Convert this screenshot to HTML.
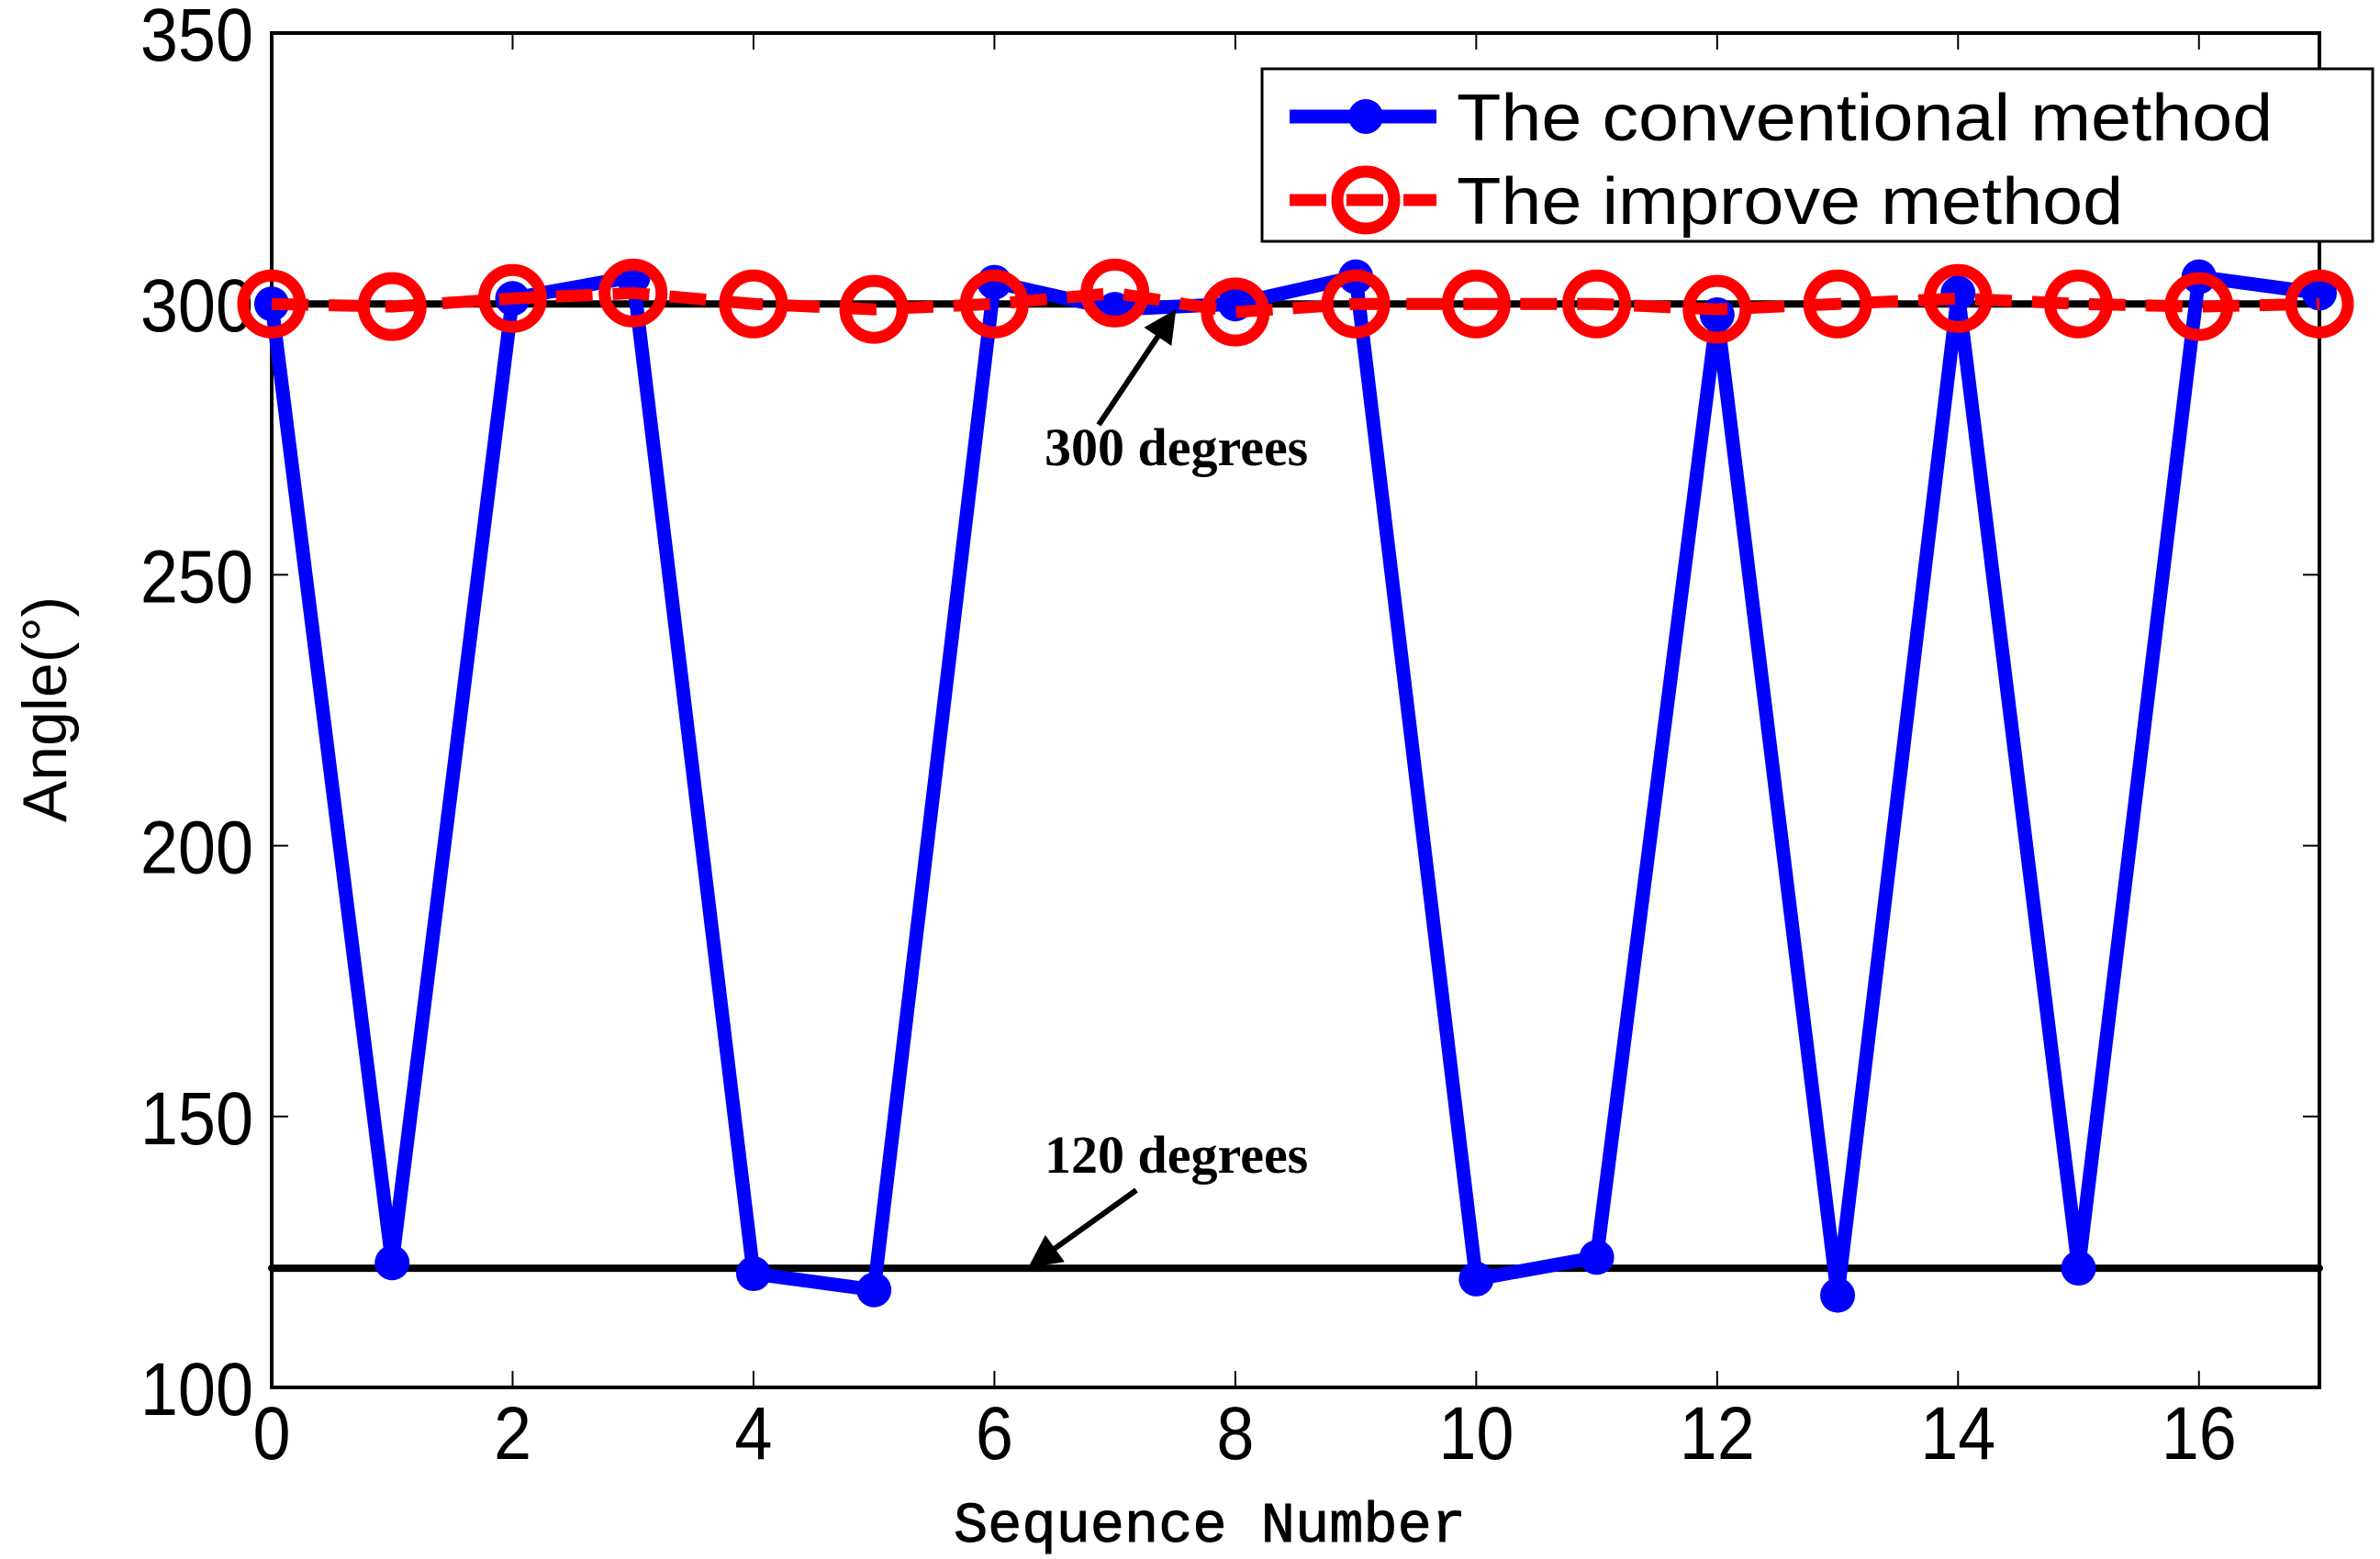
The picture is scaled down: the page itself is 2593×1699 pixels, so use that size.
<!DOCTYPE html>
<html><head><meta charset="utf-8"><style>
html,body{margin:0;padding:0;background:#fff;}
svg{display:block;}
</style></head><body>
<svg id="chart" width="2593" height="1699" xmlns="http://www.w3.org/2000/svg">
<rect width="2593" height="1699" fill="#fff"/>
<g id="plot"></g>
</svg>
<script>
const xCategories = [0,1,2,3,4,5,6,7,8,9,10,11,12,13,14,15,16,17];
const conventionalValues = [300,123,301,305,121,118,304,299,300,305,120,124,298,117,302,122,305,302];
const improvedValues = [300,299.5,301,302,300,299,300,302,298.5,300,300,300,299,300,301,300,299.5,300];
const xTickLabels = [0,2,4,6,8,10,12,14,16];
const yTickLabels = [100,150,200,250,300,350];
const refLines = [300,122];

const L=296,R=2527,T=36,B=1512;
const xMin=0,xMax=17,yMin=100,yMax=350;
const sx=v=>L+(v-xMin)/(xMax-xMin)*(R-L);
const sy=v=>B-(v-yMin)/(yMax-yMin)*(B-T);
const NS="http://www.w3.org/2000/svg";
const g=document.getElementById('plot');
function mk(tag,attrs,parent){const e=document.createElementNS(NS,tag);for(const k in attrs)e.setAttribute(k,attrs[k]);(parent||g).appendChild(e);return e;}

let box=mk('rect',{x:L,y:T,width:R-L,height:B-T,fill:'none',stroke:'#000','stroke-width':4});



xTickLabels.forEach(v=>{
  let t=mk('line',{x1:sx(v),x2:sx(v),y1:B,y2:B-18,stroke:'#000','stroke-width':2});
  
  
  let t2=mk('line',{x1:sx(v),x2:sx(v),y1:T,y2:T+18,stroke:'#000','stroke-width':2});
  
  
  let l=mk('text',{x:0,y:0,'text-anchor':'middle','font-family':'Liberation Sans, sans-serif','font-size':82,transform:'translate('+sx(v)+',1590) scale(0.9,1)'});
  l.textContent=v;
  
  
});
yTickLabels.forEach(v=>{
  let t=mk('line',{x1:L,x2:L+18,y1:sy(v),y2:sy(v),stroke:'#000','stroke-width':2});
  
  
  let t2=mk('line',{x1:R,x2:R-18,y1:sy(v),y2:sy(v),stroke:'#000','stroke-width':2});
  
  
  let l=mk('text',{x:0,y:0,'text-anchor':'end','font-family':'Liberation Sans, sans-serif','font-size':82,transform:'translate('+(L-20)+','+(sy(v)+30)+') scale(0.9,1)'});
  l.textContent=v;
  
  
});

refLines.forEach((v,i)=>{
  let r=mk('line',{x1:i===0?sx(0.2):sx(0),x2:sx(17),y1:sy(v),y2:sy(v),stroke:'#000','stroke-width':8,'stroke-linecap':'round'});
  
  
});

let bp=xCategories.map((x,i)=>sx(x)+','+sy(conventionalValues[i])).join(' ');
let bl=mk('polyline',{points:bp,fill:'none',stroke:'#0000ff','stroke-width':15,'stroke-linejoin':'round'});


xCategories.forEach((x,i)=>{
  let c=mk('circle',{cx:sx(x),cy:sy(conventionalValues[i]),r:19,fill:'#0000ff'});
  
  
});
let rp=xCategories.map((x,i)=>sx(x)+','+sy(improvedValues[i])).join(' ');
let rl=mk('polyline',{points:rp,fill:'none',stroke:'#ff0000','stroke-width':13,'stroke-dasharray':'40,22'});


xCategories.forEach((x,i)=>{
  let c=mk('circle',{cx:sx(x),cy:sy(improvedValues[i]),r:31,fill:'none',stroke:'#ff0000','stroke-width':13});
  
  
});

mk('defs',{}).innerHTML='<marker id="ah" markerWidth="6" markerHeight="6" refX="5" refY="3" orient="auto" markerUnits="strokeWidth"><path d="M0,0 L6,3 L0,6 z" fill="#000"/></marker>';
let a1=mk('line',{x1:1197,y1:463,x2:1278,y2:342,stroke:'#000','stroke-width':6,'marker-end':'url(#ah)'});


let t1=mk('text',{x:1138,y:507,'font-family':'Liberation Serif, serif','font-weight':'bold','font-size':58});
t1.textContent='300 degrees';


let a2=mk('line',{x1:1238,y1:1297,x2:1125,y2:1378,stroke:'#000','stroke-width':6,'marker-end':'url(#ah)'});


let t2=mk('text',{x:1138,y:1278,'font-family':'Liberation Serif, serif','font-weight':'bold','font-size':58});
t2.textContent='120 degrees';



let xt=mk('text',{x:1318,y:1680,'text-anchor':'middle','font-family':'Liberation Mono, monospace','font-size':62,'stroke':'#000','stroke-width':1});
xt.textContent='Sequence Number';


let yt=mk('text',{x:0,y:0,'text-anchor':'middle','font-family':'Liberation Sans, sans-serif','font-size':68,transform:'translate(72,773) rotate(-90)'});
yt.textContent='Angle(°)';



let lg=mk('g',{});


let lb=mk('rect',{x:1375,y:75,width:1210,height:188,fill:'#fff',stroke:'#000','stroke-width':3},lg);


let e1=mk('line',{x1:1405,x2:1565,y1:127,y2:127,stroke:'#0000ff','stroke-width':15},lg);


let e1c=mk('circle',{cx:1488,cy:127,r:19,fill:'#0000ff'},lg);


let e1t=mk('text',{x:1587,y:153,'font-family':'Liberation Sans, sans-serif','font-size':72,transform:'translate(1587,0) scale(1.1,1) translate(-1587,0)'},lg);
e1t.textContent='The conventional method';


let e2=mk('line',{x1:1405,x2:1565,y1:218,y2:218,stroke:'#ff0000','stroke-width':13,'stroke-dasharray':'40,22'},lg);


let e2c=mk('circle',{cx:1488,cy:218,r:31,fill:'none',stroke:'#ff0000','stroke-width':13},lg);


let e2t=mk('text',{x:1587,y:244,'font-family':'Liberation Sans, sans-serif','font-size':72,transform:'translate(1587,0) scale(1.1,1) translate(-1587,0)'},lg);
e2t.textContent='The improve method';


</script>
</body></html>
